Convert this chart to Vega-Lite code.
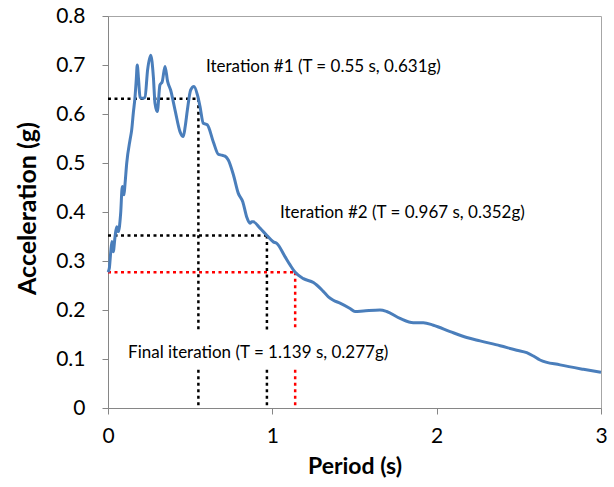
{
  "$schema": "https://vega.github.io/schema/vega-lite/v6.json",
  "autosize": {"type": "none"},
  "width": 493,
  "height": 392,
  "padding": {"left": 108, "top": 16, "right": 13, "bottom": 79},
  "background": "white",
  "config": {
    "view": {"stroke": "#a6a6a6", "strokeWidth": 1},
    "font": "Lato",
    "axis": {
      "grid": false,
      "domainColor": "#868686",
      "tickColor": "#868686",
      "tickSize": 6,
      "labelFont": "Lato",
      "labelColor": "#000000",
      "labelFontSize": 21,
      "labelFlush": false,
      "titleFont": "Lato",
      "titleColor": "#000000",
      "titleFontSize": 23,
      "titleFontWeight": "bold"
    }
  },
  "datasets": {
    "curve": [
      {"T": 0, "Sa": 0.277}, {"T": 0.008, "Sa": 0.285}, {"T": 0.016, "Sa": 0.316}, {"T": 0.024, "Sa": 0.34},
      {"T": 0.032, "Sa": 0.319}, {"T": 0.043, "Sa": 0.35}, {"T": 0.053, "Sa": 0.37}, {"T": 0.063, "Sa": 0.36},
      {"T": 0.077, "Sa": 0.397}, {"T": 0.087, "Sa": 0.452}, {"T": 0.097, "Sa": 0.435}, {"T": 0.103, "Sa": 0.455},
      {"T": 0.114, "Sa": 0.5}, {"T": 0.134, "Sa": 0.547}, {"T": 0.144, "Sa": 0.567}, {"T": 0.154, "Sa": 0.602},
      {"T": 0.164, "Sa": 0.633}, {"T": 0.172, "Sa": 0.67}, {"T": 0.178, "Sa": 0.7}, {"T": 0.186, "Sa": 0.67},
      {"T": 0.195, "Sa": 0.634}, {"T": 0.21, "Sa": 0.632}, {"T": 0.225, "Sa": 0.634}, {"T": 0.241, "Sa": 0.69},
      {"T": 0.26, "Sa": 0.72}, {"T": 0.276, "Sa": 0.676}, {"T": 0.286, "Sa": 0.622}, {"T": 0.3, "Sa": 0.605},
      {"T": 0.316, "Sa": 0.659}, {"T": 0.33, "Sa": 0.666}, {"T": 0.347, "Sa": 0.697}, {"T": 0.363, "Sa": 0.666},
      {"T": 0.381, "Sa": 0.649}, {"T": 0.408, "Sa": 0.608}, {"T": 0.438, "Sa": 0.564}, {"T": 0.458, "Sa": 0.554},
      {"T": 0.47, "Sa": 0.575}, {"T": 0.483, "Sa": 0.608}, {"T": 0.503, "Sa": 0.649}, {"T": 0.523, "Sa": 0.656},
      {"T": 0.544, "Sa": 0.639}, {"T": 0.55, "Sa": 0.631}, {"T": 0.56, "Sa": 0.615}, {"T": 0.58, "Sa": 0.581},
      {"T": 0.604, "Sa": 0.578}, {"T": 0.641, "Sa": 0.543}, {"T": 0.671, "Sa": 0.518}, {"T": 0.692, "Sa": 0.516},
      {"T": 0.712, "Sa": 0.514}, {"T": 0.732, "Sa": 0.506}, {"T": 0.763, "Sa": 0.476}, {"T": 0.793, "Sa": 0.438},
      {"T": 0.82, "Sa": 0.421}, {"T": 0.844, "Sa": 0.39}, {"T": 0.864, "Sa": 0.377}, {"T": 0.875, "Sa": 0.38},
      {"T": 0.884, "Sa": 0.38}, {"T": 0.925, "Sa": 0.367}, {"T": 0.967, "Sa": 0.352}, {"T": 1.006, "Sa": 0.339},
      {"T": 1.027, "Sa": 0.336}, {"T": 1.077, "Sa": 0.309}, {"T": 1.108, "Sa": 0.292}, {"T": 1.139, "Sa": 0.277},
      {"T": 1.189, "Sa": 0.264}, {"T": 1.25, "Sa": 0.256}, {"T": 1.27, "Sa": 0.251}, {"T": 1.31, "Sa": 0.238},
      {"T": 1.341, "Sa": 0.227}, {"T": 1.371, "Sa": 0.22}, {"T": 1.412, "Sa": 0.214}, {"T": 1.473, "Sa": 0.203},
      {"T": 1.503, "Sa": 0.197}, {"T": 1.554, "Sa": 0.198}, {"T": 1.655, "Sa": 0.2}, {"T": 1.696, "Sa": 0.197},
      {"T": 1.777, "Sa": 0.183}, {"T": 1.858, "Sa": 0.174}, {"T": 1.919, "Sa": 0.174}, {"T": 1.98, "Sa": 0.169},
      {"T": 2.082, "Sa": 0.156}, {"T": 2.183, "Sa": 0.144}, {"T": 2.264, "Sa": 0.137}, {"T": 2.386, "Sa": 0.127},
      {"T": 2.487, "Sa": 0.118}, {"T": 2.548, "Sa": 0.113}, {"T": 2.589, "Sa": 0.106}, {"T": 2.629, "Sa": 0.098},
      {"T": 2.751, "Sa": 0.088}, {"T": 2.893, "Sa": 0.079}, {"T": 3.0, "Sa": 0.073}
    ],
    "guides": [
      {"x": 0, "x2": 0.55, "y": 0.631, "y2": 0.631, "c": "black"},
      {"x": 0.55, "x2": 0.55, "y": 0.631, "y2": 0.158, "c": "black"},
      {"x": 0.55, "x2": 0.55, "y": 0.078, "y2": 0, "c": "black"},
      {"x": 0, "x2": 0.967, "y": 0.352, "y2": 0.352, "c": "black"},
      {"x": 0.967, "x2": 0.967, "y": 0.352, "y2": 0.158, "c": "black"},
      {"x": 0.967, "x2": 0.967, "y": 0.078, "y2": 0, "c": "black"},
      {"x": 0, "x2": 1.139, "y": 0.277, "y2": 0.277, "c": "red"},
      {"x": 1.139, "x2": 1.139, "y": 0.277, "y2": 0.158, "c": "red"},
      {"x": 1.139, "x2": 1.139, "y": 0.078, "y2": 0, "c": "red"}
    ],
    "labels": [
      {"x": 0.596, "y": 0.696, "text": "Iteration #1 (T = 0.55 s, 0.631g)"},
      {"x": 1.047, "y": 0.398, "text": "Iteration #2 (T = 0.967 s, 0.352g)"},
      {"x": 0.122, "y": 0.112, "text": "Final iteration (T = 1.139 s, 0.277g)"}
    ]
  },
  "layer": [
    {
      "data": {"name": "guides"},
      "mark": {"type": "rule", "strokeWidth": 2.5, "strokeDash": [3, 3.5]},
      "encoding": {
        "x": {"field": "x", "type": "quantitative", "scale": {"domain": [0, 3], "nice": false},
              "axis": {"values": [0, 1, 2, 3], "title": "Period (s)", "labelPadding": 11, "titlePadding": 9, "format": "d"}},
        "x2": {"field": "x2"},
        "y": {"field": "y", "type": "quantitative", "scale": {"domain": [0, 0.8], "nice": false},
              "axis": {"values": [0, 0.1, 0.2, 0.3, 0.4, 0.5, 0.6, 0.7, 0.8], "format": "~g", "title": "Acceleration (g)", "titleFontSize": 25, "labelPadding": 17, "titleX": -68, "titleY": 192}},
        "y2": {"field": "y2"},
        "color": {"field": "c", "type": "nominal", "scale": {"domain": ["black", "red"], "range": ["#000000", "#ff0000"]}, "legend": null}
      }
    },
    {
      "data": {"name": "curve"},
      "mark": {"type": "line", "color": "#4a7ebb", "strokeWidth": 3, "interpolate": "monotone"},
      "encoding": {
        "x": {"field": "T", "type": "quantitative"},
        "y": {"field": "Sa", "type": "quantitative"}
      }
    },
    {
      "data": {"name": "labels"},
      "mark": {"type": "text", "align": "left", "baseline": "middle", "fontSize": 17, "font": "Lato", "color": "#000000"},
      "encoding": {
        "x": {"field": "x", "type": "quantitative"},
        "y": {"field": "y", "type": "quantitative"},
        "text": {"field": "text"}
      }
    }
  ]
}
